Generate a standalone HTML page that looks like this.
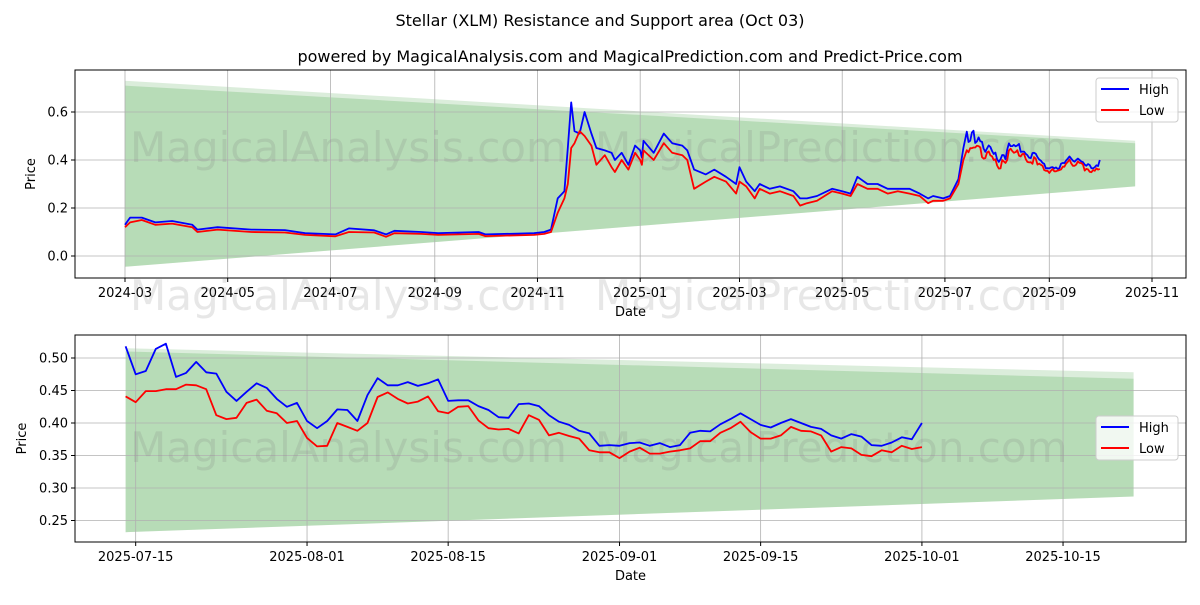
<!DOCTYPE html>
<html><head><meta charset="utf-8"><style>
body{margin:0;background:#fff;font-family:"Liberation Sans","DejaVu Sans",sans-serif}
svg text{font-family:"DejaVu Sans","Liberation Sans",sans-serif}
</style></head><body>
<svg id="c" width="1200" height="600" viewBox="0 0 1200 600" xmlns="http://www.w3.org/2000/svg">
<rect width="1200" height="600" fill="#fff"/>
<text x="600" y="26" text-anchor="middle" font-size="16">Stellar (XLM) Resistance and Support area (Oct 03)</text>
<text x="630" y="62" text-anchor="middle" font-size="16">powered by MagicalAnalysis.com and MagicalPrediction.com and Predict-Price.com</text>
<g id="top"></g>
<g id="bot"></g>
</svg>
<script>
// Top chart (days since 2024-03-01), before 2025-07-14
const topDays=[0,3,10,18,28,40,43,55,75,95,107,125,133,148,155,160,176,186,210,214,243,249,253,257,261,263,265,267,270,273,277,280,285,289,291,295,299,303,306,307,308,314,320,325,331,334,338,345,350,357,363,365,369,374,377,383,389,397,401,405,411,420,426,431,435,441,447,453,459,466,472,477,480,486,490,495,498];
const topHigh=[0.13,0.16,0.16,0.14,0.146,0.13,0.11,0.12,0.11,0.108,0.095,0.09,0.115,0.107,0.09,0.105,0.10,0.095,0.10,0.09,0.095,0.10,0.11,0.24,0.27,0.45,0.64,0.52,0.51,0.60,0.51,0.45,0.44,0.43,0.40,0.43,0.38,0.46,0.44,0.41,0.48,0.43,0.51,0.47,0.46,0.44,0.36,0.34,0.36,0.33,0.30,0.37,0.31,0.27,0.30,0.28,0.29,0.27,0.24,0.24,0.25,0.28,0.27,0.26,0.33,0.30,0.30,0.28,0.28,0.28,0.26,0.24,0.25,0.24,0.25,0.32,0.45];
const topLow=[0.12,0.14,0.15,0.13,0.135,0.12,0.10,0.11,0.10,0.098,0.088,0.082,0.10,0.098,0.08,0.095,0.092,0.088,0.092,0.083,0.088,0.092,0.10,0.18,0.24,0.30,0.45,0.47,0.52,0.50,0.46,0.38,0.42,0.37,0.35,0.40,0.36,0.43,0.40,0.38,0.44,0.40,0.47,0.43,0.42,0.40,0.28,0.31,0.33,0.31,0.26,0.31,0.29,0.24,0.28,0.26,0.27,0.25,0.21,0.22,0.23,0.27,0.26,0.25,0.30,0.28,0.28,0.26,0.27,0.26,0.25,0.22,0.23,0.23,0.24,0.30,0.40];
// Daily data from 2025-07-14 (day index 0)
const dailyHigh=[0.518,0.475,0.48,0.514,0.522,0.471,0.477,0.494,0.478,0.476,0.448,0.434,0.448,0.461,0.454,0.437,0.425,0.431,0.403,0.392,0.403,0.421,0.42,0.403,0.443,0.469,0.458,0.458,0.463,0.457,0.461,0.467,0.434,0.435,0.435,0.426,0.42,0.409,0.408,0.429,0.43,0.426,0.412,0.402,0.397,0.388,0.384,0.365,0.366,0.365,0.369,0.37,0.365,0.369,0.363,0.366,0.385,0.388,0.387,0.398,0.406,0.415,0.406,0.397,0.393,0.4,0.406,0.4,0.394,0.391,0.381,0.376,0.383,0.379,0.366,0.365,0.37,0.378,0.375,0.4];
const dailyLow=[0.441,0.432,0.449,0.449,0.452,0.452,0.459,0.458,0.452,0.412,0.406,0.408,0.431,0.436,0.419,0.415,0.4,0.403,0.377,0.364,0.365,0.4,0.394,0.388,0.4,0.44,0.447,0.437,0.43,0.433,0.441,0.418,0.415,0.425,0.426,0.404,0.392,0.39,0.391,0.384,0.412,0.405,0.381,0.385,0.38,0.376,0.358,0.355,0.355,0.346,0.356,0.362,0.353,0.353,0.356,0.358,0.361,0.372,0.372,0.385,0.392,0.402,0.386,0.376,0.376,0.381,0.394,0.388,0.387,0.381,0.356,0.363,0.361,0.351,0.349,0.358,0.355,0.365,0.36,0.363];
const topYTicks=[0.0,0.2,0.4,0.6];
const topXTickLabels=["2024-03","2024-05","2024-07","2024-09","2024-11","2025-01","2025-03","2025-05","2025-07","2025-09","2025-11"];
const topXTickDays=[0,61,122,184,245,306,365,426,487,549,610];
const botYTicks=[0.25,0.30,0.35,0.40,0.45,0.50];
const botXTickLabels=["2025-07-15","2025-08-01","2025-08-15","2025-09-01","2025-09-15","2025-10-01","2025-10-15"];
const botXTickDays=[1,18,32,49,63,79,93];
// band: [start, end] values
const topBandOuter=[0.73,0.48], topBandInner=[0.71,0.47], topBandLow=[-0.045,0.29];
const botBandOuter=[0.515,0.478], botBandInner=[0.51,0.468], botBandLow=[0.232,0.287];

const NS="http://www.w3.org/2000/svg";
function mk(p,tag,attrs){const e=document.createElementNS(NS,tag);for(const k in attrs)e.setAttribute(k,attrs[k]);p.appendChild(e);return e;}

function panel(g,box,xs,ys,opt){
  const L=box[0],T=box[1],R=box[2],B=box[3];
  const bx0=xs(opt.band0),bx1=xs(opt.band1);
  const o=mk(g,'polygon',{points:`${bx0},${ys(opt.bo[0])} ${bx1},${ys(opt.bo[1])} ${bx1},${ys(opt.bl[1])} ${bx0},${ys(opt.bl[0])}`,fill:'rgba(0,128,0,0.14)'});
  
  
  const i=mk(g,'polygon',{points:`${bx0},${ys(opt.bi[0])} ${bx1},${ys(opt.bi[1])} ${bx1},${ys(opt.bl[1])} ${bx0},${ys(opt.bl[0])}`,fill:'rgba(0,128,0,0.16)'});
  
  
  opt.yt.forEach(v=>{const y=ys(v);
    const l=mk(g,'line',{x1:L,x2:R,y1:y,y2:y,stroke:'#b0b0b0','stroke-width':0.8});
    
    
    mk(g,'line',{x1:L-4,x2:L,y1:y,y2:y,stroke:'#000'});
    const t=mk(g,'text',{x:L-7,y:y+4.5,'text-anchor':'end','font-size':13});t.textContent=opt.yfmt(v);
    
    
  });
  opt.xd.forEach((d,k)=>{const x=xs(d);
    const l=mk(g,'line',{x1:x,x2:x,y1:T,y2:B,stroke:'#b0b0b0','stroke-width':0.8});
    
    
    mk(g,'line',{x1:x,x2:x,y1:B,y2:B+4,stroke:'#000'});
    const t=mk(g,'text',{x:x,y:B+19,'text-anchor':'middle','font-size':13});t.textContent=opt.xl[k];
    
    
  });
  opt.wm.forEach(w=>{const t=mk(g,'text',{x:w[0],y:w[1],'font-size':42,fill:'rgba(120,120,120,0.18)'});t.textContent=w[2];
    
    });
  const hp=opt.dx.map((d,k)=>xs(d).toFixed(1)+','+ys(opt.hi[k]).toFixed(1)).join(' ');
  const lp=opt.dx.map((d,k)=>xs(d).toFixed(1)+','+ys(opt.lo[k]).toFixed(1)).join(' ');
  const h=mk(g,'polyline',{points:hp,fill:'none',stroke:'#0000ff','stroke-width':1.8,'stroke-linejoin':'round'});
  
  
  const lo=mk(g,'polyline',{points:lp,fill:'none',stroke:'#ff0000','stroke-width':1.8,'stroke-linejoin':'round'});
  
  
  const fr=mk(g,'rect',{x:L,y:T,width:R-L,height:B-T,fill:'none',stroke:'#000','stroke-width':1});
  
  
  const xt=mk(g,'text',{x:(L+R)/2,y:B+38,'text-anchor':'middle','font-size':13});xt.textContent='Date';
  
  
  const yt=mk(g,'text',{x:0,y:0,'text-anchor':'middle','font-size':13,transform:`translate(${opt.ytx},${(T+B)/2}) rotate(-90)`});yt.textContent='Price';
  
  
  const lg=mk(g,'g',{});
  
  
  const ly=opt.legY;
  mk(lg,'rect',{x:1096,y:ly,width:82,height:44,rx:3,fill:'rgba(255,255,255,0.8)',stroke:'#ccc'});
  [['High','#0000ff'],['Low','#ff0000']].forEach((e,k)=>{
    const eg=mk(lg,'g',{});
    
    
    mk(eg,'line',{x1:1101,x2:1129,y1:ly+11+k*21,y2:ly+11+k*21,stroke:e[1],'stroke-width':2});
    const t=mk(eg,'text',{x:1139,y:ly+16+k*21,'font-size':13});t.textContent=e[0];
  });
}

const allDays=topDays.concat(dailyHigh.map((_,k)=>500+k));
panel(document.getElementById('top'),[75,70,1186,278],d=>125+d*1.6836,v=>256-v*240,{
  band0:0,band1:600,bo:topBandOuter,bi:topBandInner,bl:topBandLow,
  yt:topYTicks,yfmt:v=>v.toFixed(1),xd:topXTickDays,xl:topXTickLabels,
  wm:[[130,162,'MagicalAnalysis.com'],[595,162,'MagicalPrediction.com']],
  dx:allDays,hi:topHigh.concat(dailyHigh),lo:topLow.concat(dailyLow),ytx:35,legY:78});
panel(document.getElementById('bot'),[75,335,1186,542],d=>125.6+d*10.08,v=>358-(v-0.5)*650,{
  band0:0,band1:100,bo:botBandOuter,bi:botBandInner,bl:botBandLow,
  yt:botYTicks,yfmt:v=>v.toFixed(2),xd:botXTickDays,xl:botXTickLabels,
  wm:[[130,310,'MagicalAnalysis.com'],[595,310,'MagicalPrediction.com'],[130,462,'MagicalAnalysis.com'],[595,462,'MagicalPrediction.com']],
  dx:dailyHigh.map((_,k)=>k),hi:dailyHigh,lo:dailyLow,ytx:26,legY:416});
</script>
</body></html>
